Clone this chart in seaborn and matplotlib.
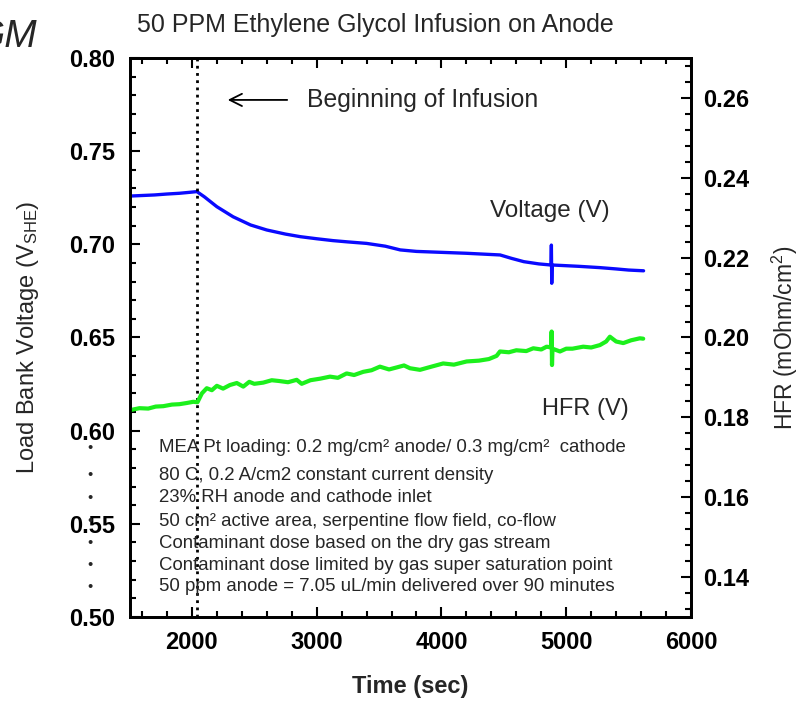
import numpy as np
import pandas as pd
import matplotlib
matplotlib.use("Agg")
import matplotlib.pyplot as plt
from matplotlib.ticker import MultipleLocator, FormatStrFormatter
import seaborn as sns

# ---------------- data ----------------
v_time = [1500, 1600, 1700, 1800, 1900, 1980, 2040, 2100, 2200, 2330, 2470, 2600,
          2750, 2870, 3000, 3130, 3250, 3400, 3550, 3670, 3800, 4000, 4200, 4470,
          4560, 4660, 4780, 4878, 4881, 4884, 4887, 4950, 5100, 5270, 5400, 5500, 5620]
v_values = [0.7259, 0.7262, 0.7265, 0.7270, 0.7274, 0.7279, 0.7283, 0.7255, 0.7202,
            0.7148, 0.7104, 0.7077, 0.7055, 0.7041, 0.7030, 0.7020, 0.7013, 0.7005,
            0.6990, 0.6970, 0.6962, 0.6957, 0.6952, 0.6943, 0.6925, 0.6907, 0.6895,
            0.6889, 0.6996, 0.6791, 0.6889, 0.6887, 0.6882, 0.6875, 0.6868, 0.6862, 0.6858]

h_time = [1504, 1580, 1650, 1710, 1771, 1840, 1900, 1960, 2011, 2045, 2080, 2119,
          2160, 2200, 2250, 2305, 2360, 2412, 2460, 2500, 2572, 2640, 2700, 2770,
          2840, 2880, 2950, 3030, 3107, 3170, 3240, 3300, 3373, 3440, 3507, 3580,
          3641, 3700, 3748, 3828, 3920, 4014, 4100, 4202, 4300, 4380, 4442, 4469,
          4540, 4600, 4680, 4736, 4800, 4843, 4880, 4883, 4886, 4890, 4950, 5000,
          5050, 5136, 5200, 5270, 5320, 5350, 5400, 5457, 5520, 5590, 5617]
h_values = [0.1818, 0.1823, 0.1822, 0.1827, 0.1828, 0.1832, 0.1833, 0.1836, 0.1839,
            0.1838, 0.1860, 0.1873, 0.1868, 0.1879, 0.1872, 0.1881, 0.1886, 0.1877,
            0.1889, 0.1884, 0.1887, 0.1893, 0.1891, 0.1888, 0.1894, 0.1884, 0.1893,
            0.1897, 0.1902, 0.1899, 0.1910, 0.1906, 0.1914, 0.1918, 0.1927, 0.1920,
            0.1925, 0.1930, 0.1923, 0.1919, 0.1927, 0.1935, 0.1932, 0.1940, 0.1942,
            0.1946, 0.1954, 0.1965, 0.1963, 0.1968, 0.1966, 0.1973, 0.1970, 0.1977,
            0.1975, 0.2015, 0.1931, 0.1972, 0.1965, 0.1972, 0.1972, 0.1977, 0.1975,
            0.1981, 0.1990, 0.2002, 0.1990, 0.1986, 0.1993, 0.1998, 0.1997]

infusion_start = 2040

title = "50 PPM Ethylene Glycol Infusion on Anode"
notes = ["MEA Pt loading: 0.2 mg/cm\u00b2 anode/ 0.3 mg/cm\u00b2  cathode",
         "80 C, 0.2 A/cm2 constant current density",
         "23% RH anode and cathode inlet",
         "50 cm\u00b2 active area, serpentine flow field, co-flow",
         "Contaminant dose based on the dry gas stream",
         "Contaminant dose limited by gas super saturation point",
         "50 ppm anode = 7.05 uL/min delivered over 90 minutes"]

volt_df = pd.DataFrame({"time": v_time, "value": v_values})
hfr_df = pd.DataFrame({"time": h_time, "value": h_values})

# ---------------- style ----------------
sns.set_style("ticks")
plt.rcParams["font.family"] = ["Liberation Sans", "DejaVu Sans"]
plt.rcParams["mathtext.fontset"] = "custom"
plt.rcParams["mathtext.rm"] = "Liberation Sans"
plt.rcParams["mathtext.it"] = "Liberation Sans:italic"

W, H = 801, 701
fig = plt.figure(figsize=(W / 100, H / 100), dpi=100)
L, R, T, B = 129.5, 691, 58, 617
ax = fig.add_axes([L / W, 1 - B / H, (R - L) / W, (B - T) / H])
ax2 = ax.twinx()

sns.lineplot(data=volt_df, x="time", y="value", ax=ax, color="#0a0aff",
             lw=2.4, estimator=None, sort=False)
sns.lineplot(data=hfr_df, x="time", y="value", ax=ax2, color="#1cf01c",
             lw=3.0, estimator=None, sort=False)

ax.axvline(infusion_start, color="black", ls=(0, (1, 1.6)), lw=2.0)

ax.set_xlim(1500, 6000)
ax.set_ylim(0.50, 0.80)
ax2.set_ylim(0.13, 0.27)

ax.xaxis.set_major_locator(MultipleLocator(1000))
ax.xaxis.set_minor_locator(MultipleLocator(200))
ax.yaxis.set_major_locator(MultipleLocator(0.05))
ax.yaxis.set_minor_locator(MultipleLocator(0.01))
ax.yaxis.set_major_formatter(FormatStrFormatter("%.2f"))
ax2.yaxis.set_major_locator(MultipleLocator(0.02))
ax2.yaxis.set_minor_locator(MultipleLocator(0.004))
ax2.yaxis.set_major_formatter(FormatStrFormatter("%.2f"))

for a in (ax, ax2):
    for s in a.spines.values():
        s.set_linewidth(2.0)
        s.set_visible(True)
        s.set_color("black")

ax.tick_params(which="both", direction="in", top=True, right=False,
               width=1.5, colors="black")
ax.tick_params(which="major", length=7)
ax.tick_params(which="minor", length=4)
ax.tick_params(axis="y", pad=10, labelsize=17)
ax.tick_params(axis="x", pad=10, labelsize=17)
ax2.tick_params(which="both", direction="in", right=True, left=False,
                width=1.5, colors="black", pad=9, labelsize=17)
ax2.tick_params(which="major", length=7)
ax2.tick_params(which="minor", length=4)
for lab in ax.get_xticklabels() + ax.get_yticklabels() + ax2.get_yticklabels():
    lab.set_fontweight("bold")

ax.set_xlabel("Time (sec)", fontsize=17, fontweight="bold")
ax.xaxis.set_label_coords(0.5, -0.103)
ax.set_ylabel("Load Bank Voltage (V$_{\\rm SHE}$)", fontsize=17)
ax.yaxis.set_label_coords(-0.158, 0.5)
ax2.set_ylabel("HFR (mOhm/cm$^2$)", fontsize=16.5)
ax2.yaxis.set_label_coords(1.141, 0.5)

# title and corner text
ax.text(0.437, (B - 25) / (B - T), title, transform=ax.transAxes,
        ha="center", va="center", fontsize=18)
fig.text(37 / W, 1 - 37 / H, "GM", ha="right", va="center",
         fontsize=28, style="italic")

# annotations
ax.annotate("", xy=(2265, 0.7775), xytext=(2786, 0.7775),
            arrowprops=dict(arrowstyle="->", lw=1.3, color="black",
                            mutation_scale=22))
ax.text(2922, 0.7775, "Beginning of Infusion", ha="left", va="center", fontsize=17.8)
ax.text(4865, 0.7179, "Voltage (V)", ha="center", va="center", fontsize=17.5)
ax.text(5150, 0.6116, "HFR (V)", ha="center", va="center", fontsize=17)

line_y = [448, 475, 497.7, 521, 543.3, 565, 586.7]
for yy, txt in zip(line_y, notes):
    fig.text(159 / W, 1 - yy / H, txt, ha="left", va="center", fontsize=13.4)
    fig.text(90 / W, 1 - yy / H, "\u2022", ha="center", va="center", fontsize=10.5)

fig.savefig("out.png", dpi=100)
